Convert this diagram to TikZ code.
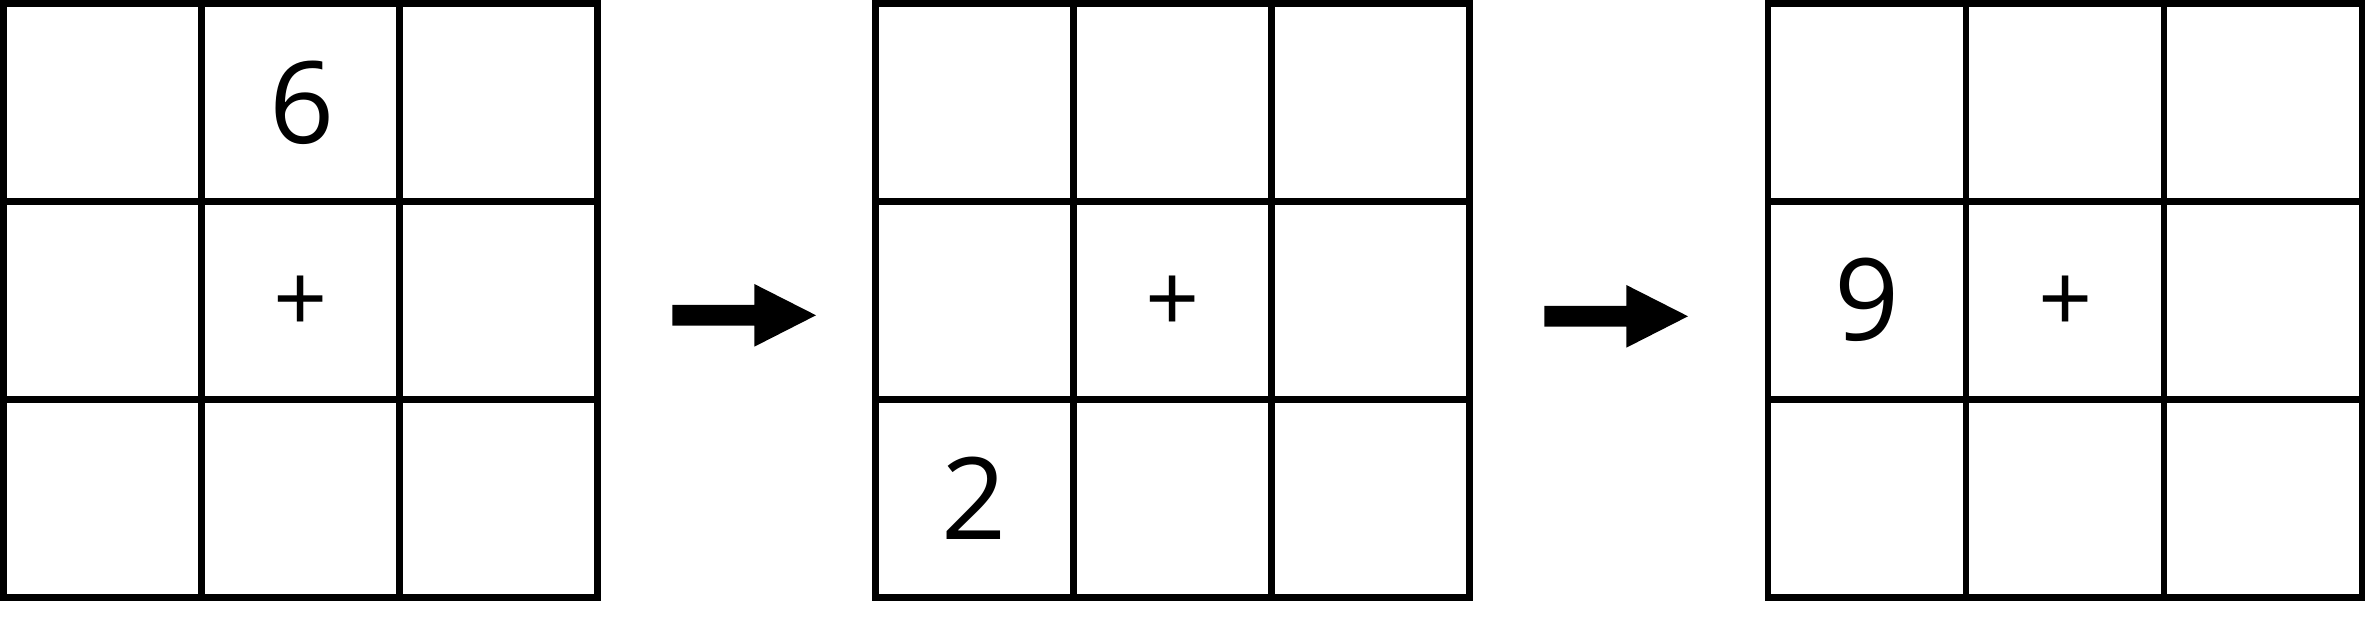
\documentclass[tikz,border=0pt]{standalone}
\usepackage{fontspec}
\setmainfont{Open Sans}
\begin{document}
\begin{tikzpicture}[x=0.01cm,y=-0.01cm,
  gridline/.style={line width=0.0667cm, line join=miter},
  numlabel/.style={font=\fontsize{32.4pt}{38pt}\selectfont, inner sep=0pt},
  pluslabel/.style={font=\fontsize{27pt}{32pt}\selectfont, inner sep=0pt},
  bigarrow/.style={fill=black}]
\useasboundingbox (0,0) rectangle (2366,631);
% three 3x3 grids
\foreach \gx in {3.3, 875.3, 1768} {
  \draw[gridline] (\gx,3.3) rectangle ++(594,594);
  \foreach \k in {1,2} {
    \draw[gridline] (\gx+\k*198,3.3) -- (\gx+\k*198,597.3);
    \draw[gridline] (\gx,3.3+\k*198) -- (\gx+594,3.3+\k*198);
  }
}
% labels
\node[numlabel] (six)   at (302,103) {6};
\node[numlabel] (two)   at (974.3,498) {2};
\node[numlabel] (nine)  at (1867,300) {9};
\node[pluslabel] (plusA) at (301,304) {+};
\node[pluslabel] (plusB) at (1173,304) {+};
\node[pluslabel] (plusC) at (2066,304) {+};
% arrows
\fill[bigarrow] (672.3,305) -- (754.3,305) -- (754.3,284) -- (816,315.3) -- (754.3,346.7) -- (754.3,325.7) -- (672.3,325.7) -- cycle;
\begin{scope}[shift={(872,1)}]
\fill[bigarrow] (672.3,305) -- (754.3,305) -- (754.3,284) -- (816,315.3) -- (754.3,346.7) -- (754.3,325.7) -- (672.3,325.7) -- cycle;
\end{scope}
\end{tikzpicture}
\end{document}
